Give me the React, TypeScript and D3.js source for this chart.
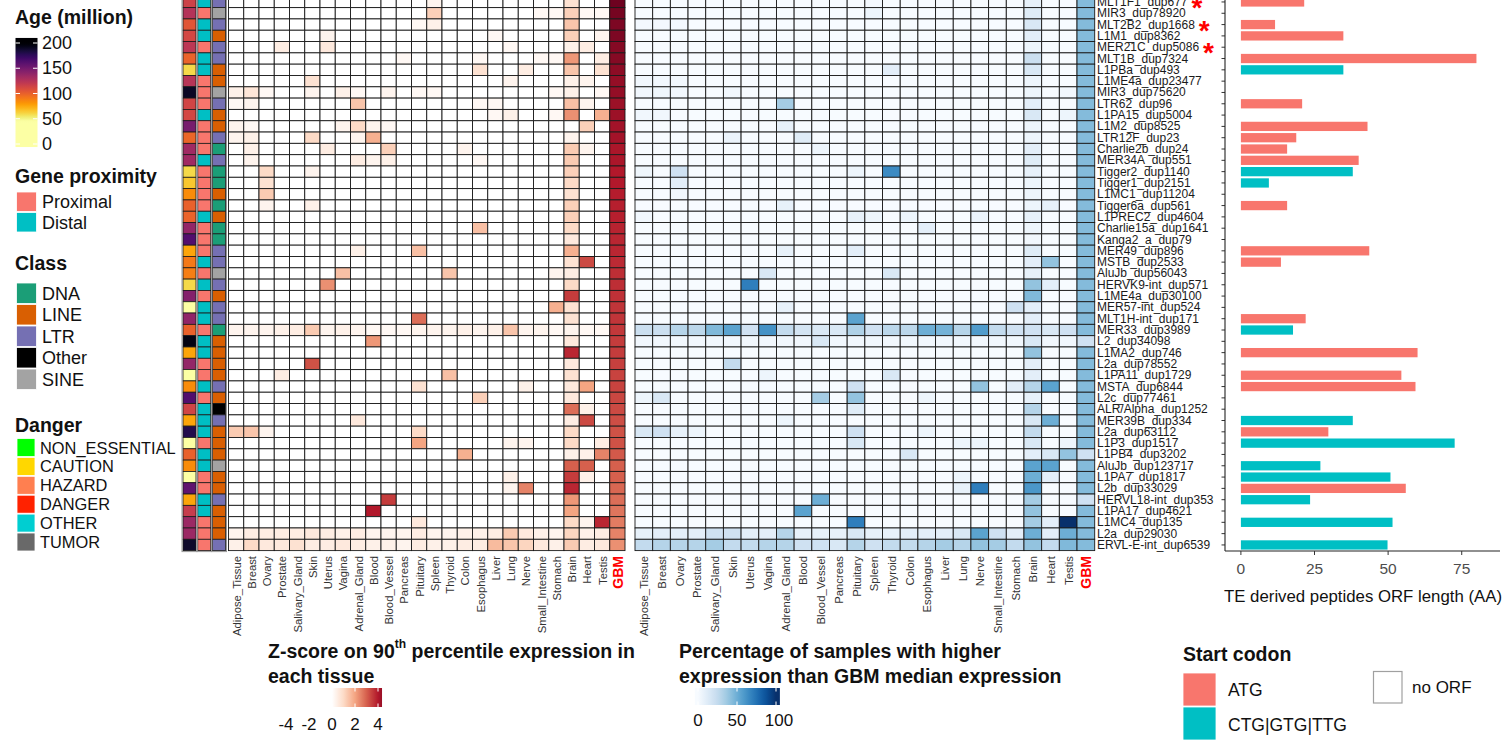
import React from "react";
import * as d3 from "d3";

const ROWS = [
  "MLT1F1_dup677", "MIR3_dup78920", "MLT2B2_dup1668", "L1M1_dup8362", "MER21C_dup5086",
  "MLT1B_dup7324", "L1PBa_dup493", "L1ME4a_dup23477", "MIR3_dup75620", "LTR62_dup96",
  "L1PA15_dup5004", "L1M2_dup8525", "LTR12F_dup23", "Charlie2b_dup24", "MER34A_dup551",
  "Tigger2_dup1140", "Tigger1_dup2151", "L1MC1_dup11204", "Tigger6a_dup561", "L1PREC2_dup4604",
  "Charlie15a_dup1641", "Kanga2_a_dup79", "MER49_dup896", "MSTB_dup2533", "AluJb_dup56043",
  "HERVK9-int_dup571", "L1ME4a_dup30100", "MER57-int_dup524", "MLT1H-int_dup171", "MER33_dup3989",
  "L2_dup34098", "L1MA2_dup746", "L2a_dup78552", "L1PA11_dup1729", "MSTA_dup6844",
  "L2c_dup77461", "ALR/Alpha_dup1252", "MER39B_dup334", "L2a_dup63112", "L1P3_dup1517",
  "L1PB4_dup3202", "AluJb_dup123717", "L1PA7_dup1817", "L2b_dup33029", "HERVL18-int_dup353",
  "L1PA17_dup4621", "L1MC4_dup135", "L2a_dup29030", "ERVL-E-int_dup6539",
];
const STARRED = ["MLT1F1_dup677", "MLT2B2_dup1668", "MER21C_dup5086"];

const TISSUES = [
  "Adipose_Tissue", "Breast", "Ovary", "Prostate", "Salivary_Gland", "Skin", "Uterus", "Vagina",
  "Adrenal_Gland", "Blood", "Blood_Vessel", "Pancreas", "Pituitary", "Spleen", "Thyroid", "Colon",
  "Esophagus", "Liver", "Lung", "Nerve", "Small_Intestine", "Stomach", "Brain", "Heart", "Testis",
];
const GBM = "GBM";

const AGE = [115,125,105,112,122,99,60,124,190,113,112,149,98,133,133,60,65,84,100,99,138,163,76,91,89,60,144,35,139,100,195,76,138,30,84,163,113,76,180,30,100,84,30,158,76,118,135,135,188];

const PROXIMITY = [
  "Distal","Proximal","Distal","Distal","Proximal","Distal","Distal","Proximal","Proximal","Proximal",
  "Distal","Proximal","Proximal","Proximal","Distal","Proximal","Proximal","Proximal","Proximal","Distal",
  "Proximal","Proximal","Proximal","Distal","Proximal","Distal","Proximal","Distal","Distal","Proximal",
  "Distal","Distal","Proximal","Proximal","Distal","Proximal","Distal","Distal","Distal","Proximal",
  "Distal","Distal","Proximal","Proximal","Distal","Distal","Proximal","Proximal","Proximal",
];

const CLASS = [
  "LTR","SINE","LTR","LINE","LTR","LTR","LINE","LINE","SINE","LTR",
  "LINE","LINE","LTR","DNA","LTR","DNA","DNA","LINE","DNA","LINE",
  "DNA","DNA","LTR","LTR","SINE","LTR","LINE","LTR","LTR","DNA",
  "LINE","LINE","LINE","LINE","LTR","LINE","Other","LTR","LINE","LINE",
  "LINE","SINE","LINE","LINE","LTR","LINE","LINE","LINE","LTR",
];

// Z-score on 90th percentile expression (tissues in TISSUES order)
const ZSCORE = [
  [0,0,0,0,0,0,0,0,0,0,0,0,0,.3,0,0,0,0,0,0,0,0,.8,0,0],
  [0,0,0,0,0,0,0,0,0,0,0,0,0,1.2,0,0,0,0,0,0,.2,.2,1.2,.2,.2],
  [0,0,0,0,0,0,0,0,0,0,0,0,.2,.4,0,0,0,0,0,0,0,0,1.4,0,0],
  [0,0,0,0,0,0,.3,0,0,0,0,0,0,0,0,0,0,.2,0,0,0,0,1.2,0,.3],
  [0,0,0,.5,0,0,.6,0,0,0,0,0,0,0,0,0,0,0,.2,0,0,0,.4,.5,0],
  [0,0,0,0,0,0,0,0,0,0,0,.2,0,0,0,0,.2,0,0,0,.2,.2,2.2,0,.5],
  [0,0,0,0,0,0,0,0,0,0,0,0,0,0,0,0,.8,0,0,.5,0,0,1.4,0,.8],
  [0,0,0,0,0,.8,0,0,0,0,0,0,0,0,0,0,0,0,.3,0,0,0,.4,.3,0],
  [.4,.7,.2,0,0,.3,0,.4,.2,0,.3,0,.2,.2,0,0,0,0,0,0,0,.2,.4,0,.2],
  [.2,.3,0,0,0,0,0,0,1.4,0,0,0,0,0,0,0,.2,.2,0,0,0,0,1.5,.3,0],
  [0,0,0,0,0,0,0,0,0,0,0,0,0,0,0,0,0,.2,.4,0,0,.2,2.3,0,1.8],
  [.3,.2,0,0,0,0,0,.3,1,.3,.2,0,0,0,0,0,0,0,0,0,0,0,0,1.2,0],
  [.3,.4,0,0,0,1,0,0,.3,1.8,0,0,0,0,0,0,0,0,0,0,0,0,.3,0,0],
  [0,.4,0,0,0,0,.5,0,0,0,1.2,0,0,0,0,.3,0,0,0,0,0,0,1.3,.3,0],
  [0,.3,0,0,0,0,0,0,.5,.3,.4,0,0,0,0,0,.2,0,0,0,0,0,1.3,0,0],
  [0,0,1,0,0,.3,0,0,0,0,0,0,0,0,0,0,0,0,0,0,0,0,1.2,0,0],
  [0,0,.8,0,0,0,0,0,0,0,0,0,0,0,0,0,0,0,0,0,0,0,1,0,0],
  [0,0,1.3,0,0,0,0,0,0,0,0,0,0,0,0,0,0,0,0,0,0,0,.8,0,0],
  [0,0,.3,0,0,.4,0,0,0,0,0,0,0,0,0,0,0,0,0,0,0,0,1.2,0,0],
  [0,0,0,0,0,0,0,0,0,0,0,0,0,0,0,0,0,0,0,0,0,0,1.2,0,0],
  [0,0,0,0,0,0,0,0,0,0,0,0,0,0,0,0,1.5,0,0,0,0,0,1,0,0],
  [0,0,0,0,0,0,0,0,0,0,0,0,0,0,0,0,0,0,0,0,0,0,.6,0,0],
  [0,0,0,0,0,0,0,0,.4,0,0,0,1.5,0,0,0,0,0,0,0,0,0,1.8,0,0],
  [0,0,0,0,0,0,0,0,0,0,0,0,0,0,0,0,0,0,0,0,0,0,.8,3.3,0],
  [0,0,0,0,0,0,0,1.5,0,0,0,0,0,0,1.4,0,0,0,0,0,0,.3,.5,0,0],
  [0,0,0,0,0,0,2.3,0,0,0,0,0,0,0,0,0,0,0,0,0,0,0,1,0,0],
  [0,0,0,0,0,0,0,0,0,0,0,0,0,0,0,0,0,0,0,0,0,0,3.5,0,0],
  [0,0,0,0,0,0,0,0,0,0,0,0,0,0,0,0,0,0,0,0,0,1.8,.8,0,0],
  [0,0,0,0,0,0,0,0,0,0,0,0,2.8,0,0,0,0,0,0,0,0,0,.8,0,0],
  [.3,.3,.3,.4,.5,1.3,.3,.4,.3,.2,.2,.2,.3,.3,.3,.4,.3,.4,1.4,.3,.3,.2,.3,.2,.2],
  [0,0,0,0,0,0,0,0,0,2.2,0,0,0,0,0,0,0,0,0,0,0,0,.6,0,0],
  [0,0,0,0,0,0,0,0,0,0,0,0,0,0,0,0,0,0,0,0,0,0,3.8,0,0],
  [0,0,0,0,0,3.2,0,0,0,0,0,0,0,0,0,0,0,0,0,0,0,0,.6,0,0],
  [0,0,0,.5,0,0,0,0,0,0,0,0,0,0,1.5,0,0,0,0,0,0,0,.8,0,0],
  [0,0,0,0,0,0,0,0,0,0,0,0,.8,0,0,0,0,0,0,.4,0,0,.6,2,0],
  [0,0,0,0,0,0,0,0,0,0,0,0,0,0,0,0,1.2,0,0,0,0,0,.6,0,0],
  [0,0,0,0,0,0,0,0,0,0,0,0,0,0,0,0,0,0,0,0,0,0,2.8,.4,0],
  [0,0,0,0,0,0,0,0,.6,0,0,0,0,0,0,0,0,0,0,0,0,0,.5,3.3,0],
  [1.3,1.4,.3,0,0,0,0,0,0,0,0,0,1,0,0,0,0,0,0,0,0,0,1,0,0],
  [0,0,0,0,0,0,0,0,0,0,0,0,2,0,0,0,0,0,.3,.3,0,0,1,0,.5],
  [0,0,0,0,0,0,0,0,0,0,0,0,0,0,0,1.8,0,0,0,0,0,0,.4,.4,2.5],
  [0,0,0,0,0,0,0,0,0,0,0,0,0,0,0,0,0,0,0,0,0,0,3,3,0],
  [0,0,0,0,0,0,0,0,0,0,0,0,0,0,0,0,0,0,.4,0,0,0,3.5,.4,0],
  [0,0,0,0,0,0,0,0,0,0,0,0,0,0,0,0,0,0,.3,2.5,0,0,3.8,0,0],
  [0,0,0,0,0,0,0,0,0,0,3.5,0,0,0,0,0,0,0,0,0,0,0,2.2,0,0],
  [0,0,0,0,0,0,0,0,0,4,0,0,0,0,0,0,0,0,0,0,0,0,2,0,0],
  [0,0,0,0,0,0,0,0,0,0,0,0,.6,0,0,0,0,0,0,0,0,0,1,.3,3.8],
  [.3,.5,.5,.5,.5,.6,.5,.4,.5,.3,.3,.3,.5,.3,.3,.4,.4,.5,1.3,.6,.4,.3,1.1,.4,.5],
  [.4,1,.6,.6,.8,.5,.5,.6,.5,.4,.4,.3,.5,.4,.4,.5,.5,1.6,1.4,1.1,.6,.4,1.3,.5,.6],
];
const GBM_Z = [4.9,4.8,4.7,4.7,4.6,4.6,4.5,4.4,4.4,4.3,4.3,4.2,4.2,4.1,4.1,4.0,4.0,3.95,3.9,3.9,3.85,3.8,3.8,3.75,3.7,3.7,3.65,3.6,3.6,3.55,3.5,3.5,3.45,3.4,3.4,3.35,3.3,3.25,3.2,3.2,3.1,3.0,3.0,2.9,2.8,2.7,2.6,2.5,2.3];

// Percentage of samples with higher expression than GBM median (tissues in TISSUES order)
const PCT = [
  [0,0,0,0,0,0,0,0,0,0,0,0,0,2,0,0,0,0,0,0,0,0,8,0,0],
  [0,0,0,0,0,0,0,0,0,0,0,0,0,5,0,0,0,0,0,0,0,0,12,0,0],
  [2,2,2,0,0,0,0,0,0,0,0,0,0,0,0,0,0,0,0,0,0,0,15,0,0],
  [0,0,0,0,0,0,0,0,0,0,0,0,0,0,0,0,0,0,0,0,0,0,10,0,0],
  [0,0,0,0,0,0,0,0,0,0,0,0,0,0,0,0,0,0,0,0,0,0,5,0,0],
  [0,0,0,0,0,0,0,0,0,0,0,0,0,0,0,0,0,0,0,0,0,0,22,0,0],
  [0,0,0,0,0,0,0,0,0,0,0,0,0,0,10,0,0,0,0,0,0,0,15,0,0],
  [3,3,3,0,0,0,0,0,0,0,0,0,0,0,0,0,0,0,0,0,0,0,5,0,0],
  [3,4,3,0,0,3,0,0,0,0,0,0,0,0,0,0,0,0,0,0,0,0,5,0,3],
  [0,0,0,0,0,0,0,0,35,0,0,0,0,0,0,0,0,0,0,0,0,0,10,0,0],
  [3,3,0,0,0,0,0,0,0,0,0,0,0,0,0,0,0,0,0,0,0,0,15,0,5],
  [0,0,0,0,0,0,0,0,8,0,0,0,0,0,0,0,0,0,0,0,0,0,5,0,0],
  [0,0,0,0,0,6,0,0,0,12,0,0,0,0,0,0,0,0,0,0,0,0,5,0,0],
  [0,0,0,0,0,0,0,0,0,0,5,0,0,0,0,0,0,0,0,0,0,0,10,0,0],
  [0,0,0,0,0,0,0,0,0,0,0,0,0,0,0,0,0,0,0,0,0,0,12,0,0],
  [4,0,20,0,0,0,0,0,0,0,0,0,5,0,65,0,0,0,0,0,0,0,8,0,0],
  [0,0,10,0,0,0,0,0,0,0,0,0,0,0,0,0,0,0,0,0,0,0,5,0,0],
  [0,0,3,0,0,0,0,0,0,0,0,0,0,0,0,0,0,0,0,0,0,0,5,0,0],
  [0,0,0,0,0,0,0,0,8,0,0,0,0,0,0,0,0,0,0,0,0,0,5,8,0],
  [3,0,0,0,0,0,0,0,0,0,0,0,8,5,0,5,0,0,0,6,0,0,8,0,0],
  [0,0,0,0,0,0,0,0,0,0,0,0,0,0,0,0,10,0,0,0,0,0,5,0,0],
  [0,0,0,0,0,0,0,0,0,0,0,0,0,0,0,0,0,0,0,0,0,0,3,0,0],
  [0,0,0,0,0,0,0,0,8,0,0,0,10,0,0,0,0,0,0,0,0,0,12,0,0],
  [0,0,0,0,0,0,0,0,0,0,0,0,0,0,0,0,0,0,0,0,0,0,10,40,0],
  [0,0,0,0,0,0,0,15,0,0,0,0,0,0,15,0,0,0,0,0,0,0,8,0,0],
  [0,0,0,0,0,0,70,0,0,0,0,0,0,0,0,0,0,0,0,0,0,0,40,10,0],
  [0,0,0,0,0,0,0,0,0,0,0,0,0,0,0,0,0,0,0,0,0,0,45,0,0],
  [0,0,0,0,0,0,0,0,8,0,0,0,0,0,0,0,0,0,0,0,0,20,10,0,0],
  [0,0,0,0,0,0,0,0,0,0,0,0,55,0,0,0,0,0,0,0,0,0,10,0,0],
  [22,22,30,28,45,55,20,62,25,18,15,15,32,20,28,28,50,48,30,58,25,20,20,15,20],
  [3,3,3,3,3,3,3,3,3,3,15,3,3,3,3,3,3,3,3,3,3,3,15,3,3],
  [0,0,0,0,0,0,0,0,0,0,0,0,0,0,0,0,0,0,0,0,0,0,40,0,0],
  [0,0,0,0,0,25,0,0,0,0,0,0,0,0,0,0,0,0,0,0,0,0,10,0,0],
  [0,0,0,0,0,0,0,5,0,0,0,0,0,0,15,0,0,0,0,0,0,0,10,0,0],
  [0,0,0,0,0,0,0,0,0,0,0,0,20,0,0,0,0,0,0,40,0,10,30,55,0],
  [5,15,0,0,0,0,0,0,0,0,35,0,40,0,0,0,5,0,0,0,0,0,8,0,0],
  [0,0,0,0,0,0,0,0,0,0,0,0,12,0,0,0,0,0,0,0,0,0,30,0,0],
  [0,0,0,0,0,0,0,0,5,0,0,0,0,0,0,0,0,0,0,0,0,0,15,50,0],
  [15,20,8,5,0,0,0,0,0,0,0,0,20,0,0,0,5,0,0,0,0,0,25,0,0],
  [0,0,0,0,0,0,0,0,0,0,0,0,15,0,0,0,0,0,5,5,0,0,15,0,5],
  [0,0,0,0,0,0,0,0,0,0,0,0,0,0,0,15,0,0,0,0,0,0,10,15,40],
  [0,0,0,0,0,0,0,0,0,0,0,0,0,0,0,0,0,0,0,0,0,0,55,55,0],
  [0,0,0,0,0,0,0,0,0,0,0,0,0,0,0,0,0,0,5,0,0,0,50,10,0],
  [0,0,0,0,0,0,0,0,0,0,0,0,0,0,0,0,0,0,8,70,0,0,60,0,0],
  [0,0,0,0,0,0,0,0,0,0,50,0,0,0,0,0,0,0,0,0,0,0,35,0,0],
  [0,0,0,0,0,0,0,0,0,55,0,0,0,0,0,0,0,0,0,0,0,0,40,0,0],
  [0,0,0,0,0,0,0,0,0,0,0,0,70,0,0,0,0,0,0,0,0,0,35,10,100],
  [8,10,10,10,20,20,10,10,30,8,8,8,15,8,8,10,10,10,15,55,20,10,50,10,50],
  [25,30,30,30,35,25,25,30,30,20,20,15,30,20,25,25,30,35,30,40,35,25,40,25,45],
];
const GBM_PCT = [44,44,44,44,44,44,44,44,44,44,44,44,44,44,44,44,44,44,44,44,44,44,44,44,44,44,44,44,44,44,20,44,44,44,44,44,44,44,44,44,20,44,44,44,20,44,44,44,44];

// TE derived peptide ORF length (AA); null = no ORF
const ORF_LEN = [21.5,null,11.6,34.8,null,80,34.8,null,null,20.8,null,43,18.8,15.7,40,38,9.5,null,15.7,null,null,null,43.6,13.6,null,null,null,null,22,17.7,null,60,null,54.5,59.3,null,null,38,29.7,72.6,null,27,50.8,56,23.5,null,51.5,null,49.8];
const ORF_CODON = [
  "ATG",null,"ATG","ATG",null,"ATG","CTG|GTG|TTG",null,null,"ATG",
  null,"ATG","ATG","ATG","ATG","CTG|GTG|TTG","CTG|GTG|TTG",null,"ATG",null,
  null,null,"ATG","ATG",null,null,null,null,"ATG","CTG|GTG|TTG",
  null,"ATG",null,"ATG","ATG",null,null,"CTG|GTG|TTG","ATG","CTG|GTG|TTG",
  null,"CTG|GTG|TTG","CTG|GTG|TTG","ATG","CTG|GTG|TTG",null,"CTG|GTG|TTG",null,"CTG|GTG|TTG",
];
const ORF_TICKS = [0, 25, 50, 75];

const AGE_TICKS = [0, 50, 100, 150, 200];
const Z_TICKS = [-4, -2, 0, 2, 4];
const PCT_TICKS = [0, 50, 100];

const PROX_LEVELS = ["Proximal", "Distal"];
const CLASS_LEVELS = ["DNA", "LINE", "LTR", "Other", "SINE"];
const DANGER_LEVELS = ["NON_ESSENTIAL", "CAUTION", "HAZARD", "DANGER", "OTHER", "TUMOR"];
const CODON_LEVELS = ["ATG", "CTG|GTG|TTG"];

const FONT = "'Liberation Sans', Arial, Helvetica, sans-serif";
const TITLE_SIZE = 19.5;

export default function App() {
  const W = 1508, H = 742;
  const cols = [...TISSUES, GBM];

  const y = d3.scaleBand<string>().domain(ROWS).range([-3.7, 550.6]);
  const bw = y.bandwidth();
  const xL = d3.scaleBand<string>().domain(cols).range([228.5, 625]);
  const xR = d3.scaleBand<string>().domain(cols).range([635, 1094.7]);
  const xAnn = d3.scaleBand<string>().domain(["Age", "Proximity", "Class"]).range([183, 225.5]).paddingInner(0.12);

  const zColor = d3.scaleLinear<string>()
    .domain([0, 1, 2, 3, 4, 5])
    .range(["#ffffff", "#fddbc7", "#f4a582", "#d6604d", "#b2182b", "#67001f"])
    .clamp(true);
  const pColor = (v: number) => d3.interpolateBlues(Math.max(0, Math.min(1, v / 100)));
  const ageColor = d3.scaleSequential(d3.interpolateInferno).domain([200, 45]).clamp(true);
  const proxColor = d3.scaleOrdinal<string, string>().domain(PROX_LEVELS).range(["#F8766D", "#00BFC4"]);
  const classColor = d3.scaleOrdinal<string, string>().domain(CLASS_LEVELS).range(["#1b9e77", "#d95f02", "#7570b3", "#000000", "#a3a3a3"]);
  const dangerColor = d3.scaleOrdinal<string, string>().domain(DANGER_LEVELS).range(["#00ff00", "#ffd700", "#ff7f50", "#ff2200", "#00ced1", "#696969"]);
  const codonColor = d3.scaleOrdinal<string, string>().domain(CODON_LEVELS).range(["#F8766D", "#00BFC4"]);

  const xB = d3.scaleLinear().domain([-5.4, 88]).range([1225, 1500]);

  // legends scales
  const ageLeg = d3.scaleLinear().domain([0, 200]).range([144, 43]);
  const zLeg = d3.scaleLinear().domain([-4, 4]).range([286, 378]);
  const pLeg = d3.scaleLinear().domain([0, 100]).range([698, 776]);

  const ageStops = d3.range(-6, 212, 4);
  const zStops = d3.range(-1.2, 4.45, 0.1);
  const pStops = d3.range(-4, 105, 2);

  const cellStroke = "#1a1a1a";

  return (
    <svg width={W} height={H} style={{ position: "absolute", left: 0, top: 0, background: "#fff" }} fontFamily={FONT}>
      <defs>
        <linearGradient id="ageGrad" x1="0" y1="1" x2="0" y2="0">
          {ageStops.map((v, i) => (
            <stop key={i} offset={(v + 6) / 216} stopColor={ageColor(Math.max(0, v))} />
          ))}
        </linearGradient>
        <linearGradient id="zGrad" x1="0" y1="0" x2="1" y2="0">
          {zStops.map((v, i) => (
            <stop key={i} offset={(v + 1.2) / 5.55} stopColor={zColor(v)} />
          ))}
        </linearGradient>
        <linearGradient id="pGrad" x1="0" y1="0" x2="1" y2="0">
          {pStops.map((v, i) => (
            <stop key={i} offset={(v + 4) / 109} stopColor={pColor(v)} />
          ))}
        </linearGradient>
      </defs>

      {/* Annotation columns */}
      {ROWS.map((r, i) => (
        <g key={"ann" + r}>
          <rect x={xAnn("Age")} y={y(r)} width={xAnn.bandwidth()} height={bw} fill={ageColor(AGE[i])} stroke={cellStroke} strokeWidth={0.8} />
          <rect x={xAnn("Proximity")} y={y(r)} width={xAnn.bandwidth()} height={bw} fill={proxColor(PROXIMITY[i])} stroke={cellStroke} strokeWidth={0.8} />
          <rect x={xAnn("Class")} y={y(r)} width={xAnn.bandwidth()} height={bw} fill={classColor(CLASS[i])} stroke={cellStroke} strokeWidth={0.8} />
        </g>
      ))}
      {["Age", "Proximity", "Class"].map((c) => (
        <rect key={"annbox" + c} x={(xAnn(c) as number) - 1} y={-4} width={xAnn.bandwidth() + 2} height={555.6} fill="none" stroke="#9a9a9a" strokeWidth={1} />
      ))}

      {/* Left heatmap: Z-score */}
      {ROWS.map((r, i) => (
        <g key={"zl" + r}>
          {TISSUES.map((t, j) => (
            <rect key={t} x={xL(t)} y={y(r)} width={xL.bandwidth()} height={bw} fill={zColor(ZSCORE[i][j])} stroke={cellStroke} strokeWidth={0.9} />
          ))}
          <rect x={xL(GBM)} y={y(r)} width={xL.bandwidth()} height={bw} fill={zColor(GBM_Z[i])} stroke={cellStroke} strokeWidth={0.9} />
        </g>
      ))}

      {/* Right heatmap: percentage */}
      {ROWS.map((r, i) => (
        <g key={"pr" + r}>
          {TISSUES.map((t, j) => (
            <rect key={t} x={xR(t)} y={y(r)} width={xR.bandwidth()} height={bw} fill={pColor(PCT[i][j])} stroke={cellStroke} strokeWidth={0.9} />
          ))}
          <rect x={xR(GBM)} y={y(r)} width={xR.bandwidth()} height={bw} fill={pColor(GBM_PCT[i])} stroke={cellStroke} strokeWidth={0.9} />
        </g>
      ))}

      {/* Column labels */}
      {cols.map((c) => (
        <g key={"cl" + c}>
          {[xL, xR].map((sc, k) => (
            <text
              key={k}
              transform={`translate(${(sc(c) as number) + sc.bandwidth() / 2 + 0.5},556) rotate(-90)`}
              textAnchor="end"
              dominantBaseline="central"
              fontSize={c === GBM ? 14 : 11.3}
              fontWeight={c === GBM ? "bold" : "normal"}
              fill={c === GBM ? "#ff0000" : "#333333"}
            >
              {c}
            </text>
          ))}
        </g>
      ))}

      {/* Row labels + asterisks */}
      {ROWS.map((r) => (
        <g key={"rl" + r}>
          <text x={1097} y={y(r)! + bw / 2} dominantBaseline="central" fontSize={12} fill="#1a1a1a">
            {r}
            {STARRED.includes(r) && (
              <tspan fill="#ff0000" fontSize={28} fontWeight="bold" dx={4} dy={5}>*</tspan>
            )}
          </text>
          <line x1={1221.5} x2={1225} y1={y(r)! + bw / 2} y2={y(r)! + bw / 2} stroke="#333" strokeWidth={1} />
        </g>
      ))}

      {/* Bar chart */}
      {ROWS.map((r, i) =>
        ORF_LEN[i] != null ? (
          <rect
            key={"bar" + r}
            x={xB(0)}
            y={y(r)! + bw * 0.09}
            width={xB(ORF_LEN[i] as number) - xB(0)}
            height={bw * 0.82}
            fill={codonColor(ORF_CODON[i] as string)}
          />
        ) : null
      )}
      <line x1={1225} x2={1225} y1={-4} y2={551} stroke="#222" strokeWidth={1.1} />
      <line x1={1225} x2={1500} y1={551} y2={551} stroke="#222" strokeWidth={1.1} />
      {ORF_TICKS.map((t) => (
        <g key={"xt" + t}>
          <line x1={xB(t)} x2={xB(t)} y1={551} y2={555} stroke="#333" strokeWidth={1} />
          <text x={xB(t)} y={568} textAnchor="middle" dominantBaseline="central" fontSize={15.5} fill="#4d4d4d">{t}</text>
        </g>
      ))}
      <text x={1363} y={596} textAnchor="middle" dominantBaseline="central" fontSize={16.8} fill="#111">TE derived peptides ORF length (AA)</text>

      {/* Left legends */}
      <text x={15} y={17} dominantBaseline="central" fontSize={TITLE_SIZE} fontWeight="bold" fill="#111">Age (million)</text>
      <rect x={15.5} y={ageLeg(210)} width={22} height={ageLeg(-6) - ageLeg(210)} fill="url(#ageGrad)" />
      {AGE_TICKS.map((t) => (
        <g key={"at" + t}>
          <line x1={15.5} x2={20} y1={ageLeg(t)} y2={ageLeg(t)} stroke="#fff" strokeWidth={1} />
          <line x1={33} x2={37.5} y1={ageLeg(t)} y2={ageLeg(t)} stroke="#fff" strokeWidth={1} />
          <text x={42} y={ageLeg(t)} dominantBaseline="central" fontSize={18} fill="#111">{t}</text>
        </g>
      ))}

      <text x={15} y={176} dominantBaseline="central" fontSize={TITLE_SIZE} fontWeight="bold" fill="#111">Gene proximity</text>
      {PROX_LEVELS.map((p, i) => (
        <g key={"pl" + p}>
          <rect x={16.5} y={192 + i * 20.5} width={20} height={19.5} fill={proxColor(p)} stroke="#fff" strokeWidth={0.8} />
          <text x={42} y={202 + i * 20.5} dominantBaseline="central" fontSize={18} fill="#111">{p}</text>
        </g>
      ))}

      <text x={15} y={263} dominantBaseline="central" fontSize={TITLE_SIZE} fontWeight="bold" fill="#111">Class</text>
      {CLASS_LEVELS.map((c, i) => (
        <g key={"cls" + c}>
          <rect x={16.5} y={283 + i * 21.5} width={20} height={20.5} fill={classColor(c)} stroke="#fff" strokeWidth={0.8} />
          <text x={42} y={293.5 + i * 21.5} dominantBaseline="central" fontSize={18} fill="#111">{c}</text>
        </g>
      ))}

      <text x={15} y={425} dominantBaseline="central" fontSize={TITLE_SIZE} fontWeight="bold" fill="#111">Danger</text>
      {DANGER_LEVELS.map((d, i) => (
        <g key={"dg" + d}>
          <rect x={17} y={438.5 + i * 18.9} width={18} height={18} fill={dangerColor(d)} stroke="#fff" strokeWidth={0.8} />
          <text x={40} y={447.5 + i * 18.9} dominantBaseline="central" fontSize={16.4} fill="#111">{d}</text>
        </g>
      ))}

      {/* Bottom legends */}
      <text x={268} y={651} dominantBaseline="central" fontSize={TITLE_SIZE} fontWeight="bold" fill="#111">
        Z-score on 90
        <tspan fontSize={12} dy={-7}>th</tspan>
        <tspan dy={7}> percentile expression in</tspan>
      </text>
      <text x={268} y={676} dominantBaseline="central" fontSize={TITLE_SIZE} fontWeight="bold" fill="#111">each tissue</text>
      <rect x={zLeg(-1.2)} y={688} width={zLeg(4.35) - zLeg(-1.2)} height={19} fill="url(#zGrad)" />
      {Z_TICKS.map((t) => (
        <g key={"zt" + t}>
          {t >= -1 && (
            <>
              <line x1={zLeg(t)} x2={zLeg(t)} y1={688} y2={691.5} stroke="#fff" strokeWidth={1} />
              <line x1={zLeg(t)} x2={zLeg(t)} y1={703.5} y2={707} stroke="#fff" strokeWidth={1} />
            </>
          )}
          <text x={zLeg(t)} y={724} textAnchor="middle" dominantBaseline="central" fontSize={17} fill="#111">{t}</text>
        </g>
      ))}

      <text x={679} y={651} dominantBaseline="central" fontSize={TITLE_SIZE} fontWeight="bold" fill="#111">Percentage of samples with higher</text>
      <text x={679} y={676} dominantBaseline="central" fontSize={TITLE_SIZE} fontWeight="bold" fill="#111">expression than GBM median expression</text>
      <rect x={pLeg(-4)} y={688} width={pLeg(105) - pLeg(-4)} height={17} fill="url(#pGrad)" />
      {PCT_TICKS.map((t) => (
        <g key={"ptk" + t}>
          <line x1={pLeg(t)} x2={pLeg(t)} y1={688} y2={691.5} stroke="#fff" strokeWidth={1} />
          <line x1={pLeg(t)} x2={pLeg(t)} y1={701.5} y2={705} stroke="#fff" strokeWidth={1} />
          <text x={pLeg(t) + (t === 100 ? 3 : 0)} y={720} textAnchor="middle" dominantBaseline="central" fontSize={17} fill="#111">{t}</text>
        </g>
      ))}

      <text x={1183} y={654} dominantBaseline="central" fontSize={TITLE_SIZE} fontWeight="bold" fill="#111">Start codon</text>
      {CODON_LEVELS.map((c, i) => (
        <g key={"cd" + c}>
          <rect x={1183} y={673 + i * 34} width={33} height={33} fill={codonColor(c)} stroke="#fff" strokeWidth={0.8} />
          <text x={1228} y={690 + i * 34.5} dominantBaseline="central" fontSize={17.5} fill="#111">{c}</text>
        </g>
      ))}
      <rect x={1373.5} y={671.5} width={28.5} height={31.5} fill="#fff" stroke="#a0a0a0" strokeWidth={1.2} />
      <text x={1412} y={687} dominantBaseline="central" fontSize={17} fill="#111">no ORF</text>
    </svg>
  );
}
